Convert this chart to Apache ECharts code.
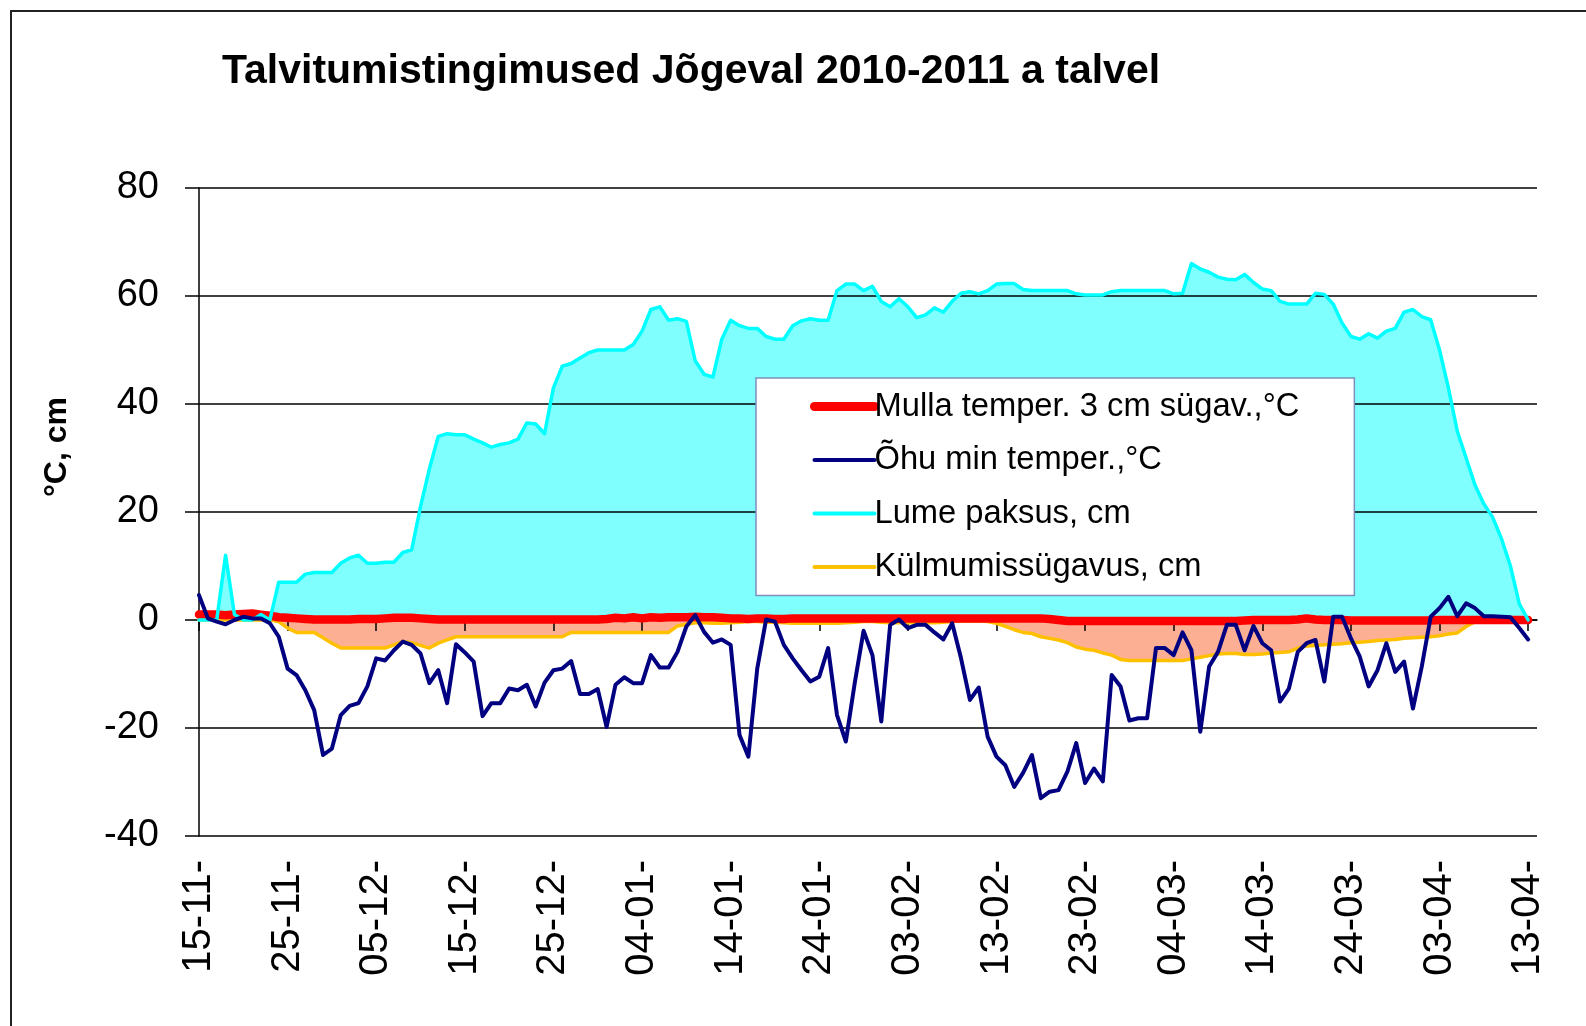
<!DOCTYPE html>
<html>
<head>
<meta charset="utf-8">
<script src="https://cdn.jsdelivr.net/npm/echarts@6/dist/echarts.min.js"></script>
<style>
html,body{margin:0;padding:0;background:#fff;}
#chart{width:1586px;height:1026px;}
</style>
</head>
<body>
<div id="chart"></div>
<script>
// Tick labels under every 10th day
const tickLabels = ['15-11-','25-11-','05-12-','15-12-','25-12-','04-01-','14-01-','24-01-',
  '03-02-','13-02-','23-02-','04-03-','14-03-','24-03-','03-04-','13-04-'];
// Day positions along the category axis (152 slots)
const dayIndex = Array.from({length: 152}, (_, i) => String(i));

// Lume paksus, cm (snow depth)
const snowDepth = [0,0,0,12,1,0,0,1,0,7,
 7,7,8.5,8.8,8.8,8.8,10.5,11.5,12,10.5,
 10.5,10.7,10.7,12.5,13,21,28,34,34.5,34.3,
 34.3,33.5,32.8,32,32.5,32.8,33.5,36.5,36.3,34.5,
 43,47,47.5,48.5,49.5,50,50,50,50,51,
 53.5,57.5,58,55.5,55.8,55.3,48,45.5,45,52,
 55.5,54.5,54,54,52.5,52,52,54.5,55.4,55.8,
 55.5,55.5,61,62.2,62.2,61,61.8,59,58,59.5,
 58,56,56.5,57.8,57,59,60.5,60.8,60.4,61,
 62.2,62.3,62.3,61.2,61,61,61,61,61,60.4,
 60.2,60.2,60.2,60.8,61,61,61,61,61,61,
 60.4,60.5,66,65,64.4,63.5,63.1,63,64,62.5,
 61.3,61,59,58.5,58.5,58.5,60.5,60.3,58.5,55,
 52.5,52,53,52.2,53.5,54,57,57.5,56.2,55.6,
 50,43,35,30,25,21.5,19,15,10,3,
 0];

// Õhu min temper., °C (air minimum temperature)
const airMin = [4.6,0.3,-0.3,-0.8,0,0.6,0.3,0.3,-0.6,-3.1,
 -9,-10.2,-13,-16.7,-25,-23.8,-17.6,-15.9,-15.4,-12.3,
 -7.1,-7.5,-5.6,-4,-4.6,-6.2,-11.7,-9.3,-15.4,-4.5,
 -6,-7.7,-17.8,-15.4,-15.4,-12.7,-13,-12,-16,-11.6,
 -9.3,-9,-7.6,-13.7,-13.7,-12.8,-19.8,-12,-10.6,-11.7,
 -11.7,-6.5,-8.8,-8.8,-5.9,-1.2,0.9,-2.2,-4.2,-3.6,
 -4.6,-21.3,-25.3,-9,0.1,-0.3,-4.6,-7.1,-9.3,-11.4,
 -10.5,-5.2,-17.6,-22.5,-11.7,-2,-6.5,-18.8,-0.9,0.1,
 -1.5,-0.9,-0.9,-2.3,-3.6,-0.6,-7.1,-14.8,-12.5,-21.6,
 -25.3,-26.9,-30.9,-28.3,-25,-33,-31.8,-31.5,-28.1,-22.8,
 -30.2,-27.5,-29.9,-10.2,-12.3,-18.6,-18.2,-18.2,-5.2,-5.2,
 -6.5,-2.3,-5.6,-20.7,-8.6,-5.9,-0.9,-0.9,-5.6,-1.1,
 -4.3,-5.6,-15.1,-12.7,-5.9,-4.3,-3.7,-11.4,0.6,0.6,
 -3.4,-6.8,-12.3,-9.3,-4.3,-9.6,-7.7,-16.4,-8.6,0.6,
 2.2,4.3,0.7,3.1,2.2,0.7,0.7,0.6,0.5,-1.5,
 -3.6];

// Mulla temper. 3 cm sügav., °C (soil temperature at 3 cm)
const soilTemp = [1,1,1,0.9,1,1.1,1.2,1,0.8,0.5,
 0.4,0.3,0.2,0.1,0.1,0.1,0.1,0.1,0.2,0.2,
 0.2,0.3,0.4,0.4,0.4,0.3,0.2,0.1,0.1,0.1,
 0.1,0.1,0.1,0.1,0.1,0.1,0.1,0.1,0.1,0.1,
 0.1,0.1,0.1,0.1,0.1,0.1,0.2,0.4,0.3,0.5,
 0.3,0.5,0.4,0.5,0.5,0.5,0.6,0.5,0.5,0.4,
 0.3,0.3,0.2,0.3,0.3,0.2,0.2,0.3,0.3,0.3,
 0.3,0.3,0.3,0.3,0.3,0.3,0.3,0.3,0.3,0.3,
 0.3,0.3,0.3,0.3,0.3,0.3,0.3,0.3,0.3,0.3,
 0.3,0.3,0.3,0.3,0.3,0.3,0.2,0,-0.2,-0.2,
 -0.2,-0.2,-0.2,-0.2,-0.2,-0.2,-0.2,-0.2,-0.2,-0.2,
 -0.2,-0.2,-0.2,-0.2,-0.2,-0.2,-0.2,-0.2,-0.1,0,
 0,0,0,0,0.1,0.3,0.1,0,0,0,
 -0.1,-0.1,-0.1,-0.1,-0.1,-0.1,-0.1,-0.1,-0.1,-0.1,
 0,0,0,0,0,0,0,0,0,0,
 0];

// Külmumissügavus, cm (frost depth, plotted negative)
const frostDepth = [0,0,0,0,0,0,0,0,0,-0.3,
 -1.5,-2.3,-2.3,-2.3,-3.3,-4.3,-5.2,-5.2,-5.2,-5.2,
 -5.2,-5.2,-4.6,-4,-4.2,-4.7,-5.2,-4.3,-3.7,-3.1,
 -3.1,-3.1,-3.1,-3.1,-3.1,-3.1,-3.1,-3.1,-3.1,-3.1,
 -3.1,-3.1,-2.3,-2.3,-2.3,-2.3,-2.3,-2.3,-2.3,-2.3,
 -2.3,-2.3,-2.3,-2.3,-1.1,-0.8,-0.5,-0.5,-0.6,-0.6,
 -0.5,-0.4,-0.3,-0.3,-0.4,-0.4,-0.5,-0.6,-0.6,-0.6,
 -0.6,-0.6,-0.6,-0.5,-0.4,-0.3,-0.3,-0.4,-0.5,-0.5,
 -0.5,-0.5,-0.5,-0.5,-0.4,-0.3,-0.2,-0.2,-0.2,-0.3,
 -0.6,-1.2,-1.8,-2.3,-2.5,-3.1,-3.4,-3.7,-4.2,-5,
 -5.4,-5.6,-6.1,-6.5,-7.3,-7.5,-7.5,-7.5,-7.5,-7.5,
 -7.5,-7.5,-7.2,-6.9,-6.6,-6.3,-6.2,-6.2,-6.4,-6.4,
 -6.3,-6.1,-6,-5.9,-5.2,-4.8,-4.7,-4.6,-4.5,-4.4,
 -4.2,-4.1,-4,-3.8,-3.7,-3.6,-3.4,-3.3,-3.2,-3.1,
 -2.9,-2.6,-2.4,-1.2,-0.3,0,0,0,0,0,
 0];

const FONT = '"Liberation Sans", Arial, sans-serif';
const NAME_SOIL = 'Mulla temper. 3 cm sügav.,°C';
const NAME_AIR = 'Õhu min temper.,°C';
const NAME_SNOW = 'Lume paksus, cm';
const NAME_FROST = 'Külmumissügavus, cm';

const everyTenth = (i) => i % 10 === 0;

const chart = echarts.init(document.getElementById('chart'), null, {renderer: 'canvas'});
chart.setOption({
  animation: false,
  backgroundColor: '#ffffff',
  title: {
    text: 'Talvitumistingimused Jõgeval 2010-2011 a talvel',
    left: 222, top: 51, padding: 0,
    textStyle: {fontFamily: FONT, fontSize: 41, fontWeight: 'bold', color: '#000'}
  },
  graphic: [
    {type: 'rect', silent: true, z: 100,
     shape: {x: 11, y: 11, width: 1620, height: 1100},
     style: {fill: 'none', stroke: '#222', lineWidth: 2}},
    {type: 'text', silent: true, z: 100,
     x: 57, y: 447, rotation: Math.PI / 2,
     style: {text: '°C, cm', fontFamily: FONT, fontSize: 32, fontWeight: 'bold',
             fill: '#000', align: 'center', verticalAlign: 'middle'}}
  ],
  legend: {
    orient: 'vertical',
    left: 756, top: 378,
    z: 20,
    backgroundColor: '#ffffff',
    borderColor: '#7E8FBE',
    borderWidth: 1.5,
    padding: [12, 55, 12, 54],
    itemWidth: 60, itemHeight: 14, itemGap: 20.5,
    selectedMode: false,
    textStyle: {fontFamily: FONT, fontSize: 32.7, color: '#000', padding: [0, 0, 0, -5]},
    data: [
      {name: NAME_SOIL, itemStyle: {opacity: 0}, lineStyle: {width: 9, color: '#FF0000', cap: 'round'}},
      {name: NAME_AIR, itemStyle: {opacity: 0}, lineStyle: {width: 4, color: '#000080'}},
      {name: NAME_SNOW, itemStyle: {opacity: 0}, lineStyle: {width: 4, color: '#00FFFF'}},
      {name: NAME_FROST, itemStyle: {opacity: 0}, lineStyle: {width: 4, color: '#FFC000'}}
    ]
  },
  grid: {left: 199, right: 49, top: 188, bottom: 190, containLabel: false},
  xAxis: {
    type: 'category',
    data: dayIndex,
    boundaryGap: false,
    z: 1,
    axisLine: {show: true, lineStyle: {color: '#000', width: 1.5}},
    axisTick: {show: true, interval: everyTenth, length: 11, lineStyle: {color: '#000', width: 1.5}},
    axisLabel: {
      show: true, interval: everyTenth, rotate: 90, margin: 24,
      fontFamily: FONT, fontSize: 40, color: '#000',
      formatter: (v, idx) => tickLabels[Math.round(idx / 10)] || ''
    },
    splitLine: {show: false}
  },
  yAxis: {
    type: 'value',
    min: -40, max: 80, interval: 20,
    z: 1,
    axisLine: {show: true, lineStyle: {color: '#000', width: 1.5}},
    axisTick: {show: true, length: 14, lineStyle: {color: '#000', width: 1.5}},
    axisLabel: {fontFamily: FONT, fontSize: 38, color: '#000', margin: 40},
    splitLine: {show: true, lineStyle: {color: '#000', width: 1.5}}
  },
  series: [
    {name: 'Lume paksus (ala)', type: 'line', data: snowDepth, symbol: 'none', silent: true, z: 0,
     lineStyle: {width: 0, opacity: 0}, itemStyle: {color: '#80FFFF'},
     areaStyle: {color: '#80FFFF', opacity: 1}},
    {name: 'Külmumissügavus (ala)', type: 'line', data: frostDepth, symbol: 'none', silent: true, z: 0,
     lineStyle: {width: 0, opacity: 0}, itemStyle: {color: '#FCAF93'},
     areaStyle: {color: '#FCAF93', opacity: 1}},
    {name: NAME_FROST, type: 'line', data: frostDepth, symbol: 'none', z: 2,
     itemStyle: {color: '#FFC000'},
     lineStyle: {color: '#FFC000', width: 3.5, join: 'round', cap: 'round'}},
    {name: NAME_SOIL, type: 'line', data: soilTemp, symbol: 'none', z: 3,
     itemStyle: {color: '#FF0000'},
     lineStyle: {color: '#FF0000', width: 8.5, join: 'round', cap: 'round'}},
    {name: NAME_SNOW, type: 'line', data: snowDepth, symbol: 'none', z: 4,
     itemStyle: {color: '#00FFFF'},
     lineStyle: {color: '#00FFFF', width: 3.5, join: 'round', cap: 'round'}},
    {name: NAME_AIR, type: 'line', data: airMin, symbol: 'none', z: 5,
     itemStyle: {color: '#000080'},
     lineStyle: {color: '#000080', width: 4, join: 'round', cap: 'round'}}
  ]
});
</script>
</body>
</html>
